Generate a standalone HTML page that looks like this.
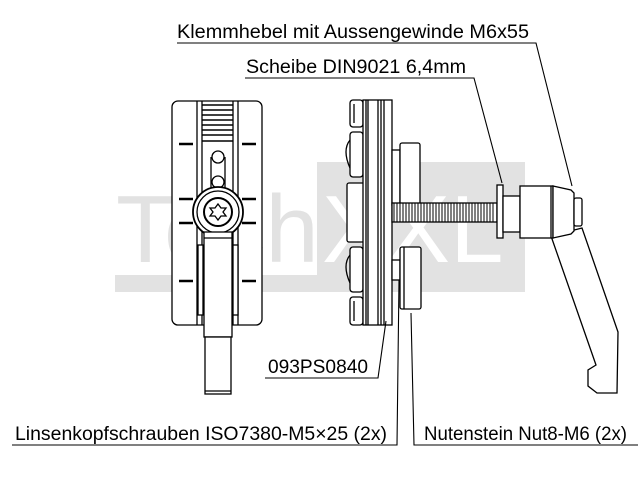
<!DOCTYPE html>
<html><head><meta charset="utf-8"><style>
html,body{margin:0;padding:0;background:#fff;}
svg{display:block;}
text{font-family:"Liberation Sans",Arial,sans-serif;fill:#000;}
</style></head><body>
<svg width="640" height="480" viewBox="0 0 640 480" xmlns="http://www.w3.org/2000/svg">
<!-- watermark -->
<rect x="115" y="275" width="410" height="17" fill="#e2e2e2"/>
<rect x="317" y="162" width="208" height="130" fill="#e2e2e2"/>
<text x="116" y="262" font-size="96" style="fill:#e2e2e2">Tech</text>
<text x="322" y="262" font-size="96" style="fill:#fff">XXL</text>

<g fill="none" stroke="#000" stroke-width="1.3">
<!-- LEFT VIEW -->
<rect x="172" y="101" width="90" height="224" rx="6" fill="#fff"/>
<line x1="197" y1="101" x2="197" y2="325"/><line x1="202" y1="101" x2="202" y2="325"/>
<line x1="233" y1="101" x2="233" y2="325"/><line x1="238" y1="101" x2="238" y2="325"/>
<g stroke-width="1.6">
<line x1="202" y1="105" x2="233" y2="105"/><line x1="202" y1="110" x2="233" y2="110"/>
<line x1="202" y1="115" x2="233" y2="115"/><line x1="202" y1="120" x2="233" y2="120"/>
<line x1="202" y1="125" x2="233" y2="125"/><line x1="202" y1="130" x2="233" y2="130"/>
<line x1="202" y1="135" x2="233" y2="135"/><line x1="202" y1="141" x2="233" y2="141"/>
</g>
<g stroke-width="2.5">
<line x1="179" y1="144" x2="193" y2="144"/><line x1="242" y1="144" x2="256" y2="144"/>
<line x1="179" y1="199" x2="193" y2="199"/><line x1="242" y1="199" x2="256" y2="199"/>
<line x1="179" y1="223" x2="193" y2="223"/><line x1="242" y1="223" x2="256" y2="223"/>
<line x1="179" y1="281" x2="193" y2="281"/><line x1="242" y1="281" x2="256" y2="281"/>
</g>
<line x1="211" y1="157" x2="211" y2="190"/><line x1="225" y1="157" x2="225" y2="190"/>
<circle cx="218" cy="157" r="6" fill="#fff"/>
<circle cx="218" cy="182" r="6" fill="#fff"/>
<circle cx="218" cy="212" r="25" fill="#fff" stroke-width="1.8"/>
<circle cx="218" cy="212" r="21"/>
<circle cx="218" cy="212" r="14" stroke-width="2"/>
<polygon points="218,204 221,208 226,208 223,212 226,216 221,216 218,220 215,216 210,216 213,212 210,208 215,208"/>
<rect x="198" y="245" width="5" height="70" fill="#fff"/>
<rect x="233" y="245" width="5" height="70" fill="#fff"/>
<rect x="204" y="232" width="28" height="105" fill="#fff"/>
<line x1="204" y1="238" x2="232" y2="238"/>
<rect x="205" y="337" width="26" height="57" fill="#fff"/>
<line x1="205" y1="391" x2="231" y2="391"/>

<!-- RIGHT VIEW -->
<rect x="350" y="100" width="13" height="27" rx="3" fill="#fff"/>
<rect x="350" y="132" width="13" height="45" rx="3" fill="#fff"/>
<path d="M350 140 Q342 150 350 168" />
<rect x="347" y="183" width="21" height="59" rx="2" fill="#fff"/>
<rect x="350" y="247" width="13" height="45" rx="3" fill="#fff"/>
<path d="M350 255 Q342 265 350 283" />
<rect x="350" y="297" width="13" height="28" rx="3" fill="#fff"/>
<line x1="354" y1="104" x2="354" y2="123"/><line x1="354" y1="301" x2="354" y2="321"/>
<rect x="363" y="100" width="29" height="225" fill="#fff"/>
<line x1="366" y1="100" x2="366" y2="325"/><line x1="368" y1="100" x2="368" y2="325"/>
<line x1="378" y1="100" x2="378" y2="325"/><line x1="381" y1="100" x2="381" y2="325"/>
<line x1="384" y1="100" x2="384" y2="325"/>
<rect x="392" y="150" width="8" height="55" fill="#fff"/>
<rect x="400" y="143" width="20" height="62" rx="2" fill="#fff"/>
<rect x="392" y="260" width="8" height="20" fill="#fff"/>
<rect x="400" y="247" width="21" height="62" rx="2" fill="#fff"/>
<line x1="404" y1="247" x2="404" y2="309"/>
<!-- bolt -->
<rect x="392" y="203" width="105" height="19" fill="#fff"/>
<g stroke-width="1">
<path d="M394 203v19M397 203v19M400 203v19M403 203v19M406 203v19M409 203v19M412 203v19M415 203v19M418 203v19M421 203v19M424 203v19M427 203v19M430 203v19M433 203v19M436 203v19M439 203v19M442 203v19M445 203v19M448 203v19M451 203v19M454 203v19M457 203v19M460 203v19M463 203v19M466 203v19M469 203v19M472 203v19M475 203v19M478 203v19M481 203v19M484 203v19M487 203v19M490 203v19M493 203v19"/>
</g>
<!-- lever -->
<path d="M551 236 L596 365 L588 370 L588 386 L597 393 L617 393 L618 332 L582 228 Z" fill="#fff"/>
<rect x="497" y="185" width="6" height="53" fill="#fff"/>
<rect x="503" y="196" width="17" height="36" fill="#fff"/>
<rect x="520" y="186" width="33" height="52" fill="#fff"/>
<path d="M553 186 L571 190 L574 193 L574 231 L571 234 L553 238 Z" fill="#fff"/>
<line x1="551" y1="186" x2="551" y2="238"/>
<rect x="574" y="198" width="8" height="28" rx="2" fill="#fff"/>

<!-- leaders -->
<g stroke-width="1.1">
<polyline points="177,43 536,43 572,186"/>
<polyline points="245,78 474,78 502,183"/>
<polyline points="265,378 378,378 386,321"/>
<polyline points="12,445 397,445 399,280"/>
<polyline points="638,445 414,445 411,313"/>
</g>
</g>

<text x="177" y="38" font-size="19" textLength="352" lengthAdjust="spacingAndGlyphs">Klemmhebel mit Aussengewinde M6x55</text>
<text x="246" y="73" font-size="19" textLength="220" lengthAdjust="spacingAndGlyphs">Scheibe DIN9021 6,4mm</text>
<text x="268" y="373" font-size="19" textLength="100" lengthAdjust="spacingAndGlyphs">093PS0840</text>
<text x="15" y="440" font-size="19" textLength="372" lengthAdjust="spacingAndGlyphs">Linsenkopfschrauben ISO7380-M5×25 (2x)</text>
<text x="424" y="440" font-size="19" textLength="203" lengthAdjust="spacingAndGlyphs">Nutenstein Nut8-M6 (2x)</text>
</svg>
</body></html>
